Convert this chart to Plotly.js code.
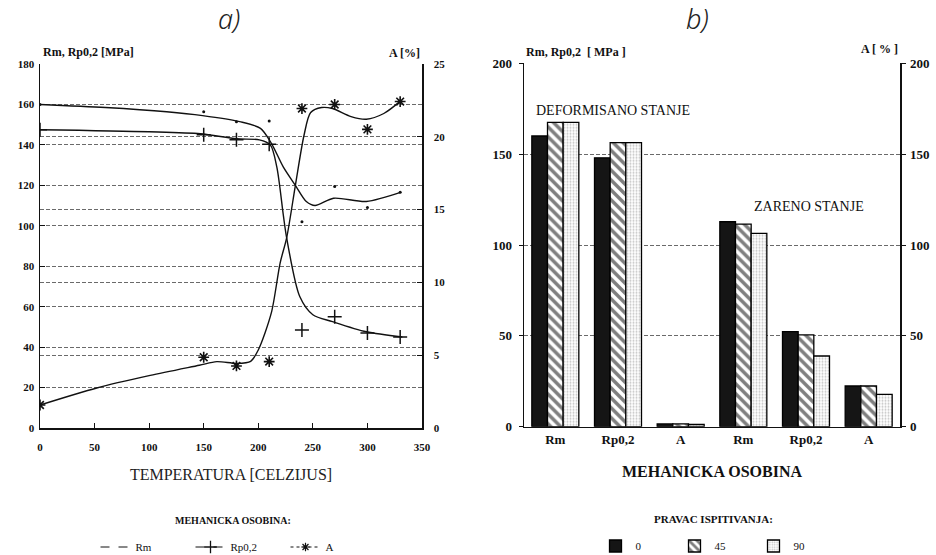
<!DOCTYPE html>
<html><head><meta charset="utf-8">
<script src="https://cdn.plot.ly/plotly-3.0.1.min.js"></script>
<style>html,body{margin:0;padding:0;background:#fff}#chart{width:936px;height:555px}</style>
</head><body><div id="chart"></div>
<script>
// ---------- Chart a): properties vs temperature ----------
// smoothed curves
const rmCurveT = [0, 60, 116, 149, 183, 202, 212, 223, 234, 244, 252, 269, 299, 331];
const rmCurveV = [160, 158.5, 156.4, 154.5, 151.5, 148.2, 140.8, 129, 120, 112, 110, 113.6, 112, 116.6];
const rpCurveT = [0, 100, 147, 180, 201, 211, 217, 223, 226, 238, 250, 268, 299, 332];
const rpCurveV = [147.5, 146.5, 145.5, 143, 142.5, 140, 129, 105, 94, 65, 56, 52.6, 47.6, 45];
const aCurveT = [0, 52, 101, 146, 162, 180, 193, 200, 212, 220, 226, 234, 242, 248, 258, 268, 285, 299, 315, 331];
const aCurveV = [1.58, 2.75, 3.61, 4.31, 4.56, 4.44, 4.58, 5.36, 7.92, 11.33, 13.06, 16.67, 20.14, 21.67, 22.01, 21.94, 21.39, 21.21, 21.6, 22.5];
// measured points
const pointT = [0, 150, 180, 210, 240, 270, 300, 330];
const rmPoints = [160, 156.4, 151.5, 151.8, 102, 119.4, 109, 116.6];
const rpPoints = [147.5, 145, 142.5, 140.3, 48.5, 55, 47, 45];
const aPoints  = [1.58, 4.86, 4.26, 4.56, 21.94, 22.22, 20.51, 22.42];

// ---------- Chart b): properties by test direction ----------
const categories = ["Rm", "Rp0,2", "A", "Rm", "Rp0,2", "A"];
const dir0  = [160, 148, 1.5, 112.8, 52.3, 22.4];
const dir45 = [167.5, 156.3, 1.5, 111.5, 50.5, 22.4];
const dir90 = [167.5, 156.3, 1.2, 106.4, 38.9, 17.8];
const dirNames = ["0", "45", "90"];

const W = 936, H = 555;
const fx = p => p / W, fy = p => 1 - p / H;
const SERIF = "Liberation Serif";
const catIdx = categories.map((c, i) => i);
const lineCol = "#111";

const traces = [
  {type:"scatter", mode:"lines", x:rmCurveT, y:rmCurveV, xaxis:"x", yaxis:"y", line:{color:lineCol,width:1.4,shape:"spline",smoothing:0.8}, showlegend:false, hoverinfo:"skip"},
  {type:"scatter", mode:"lines", x:rpCurveT, y:rpCurveV, xaxis:"x", yaxis:"y", line:{color:lineCol,width:1.4,shape:"spline",smoothing:0.8}, showlegend:false, hoverinfo:"skip"},
  {type:"scatter", mode:"lines", x:aCurveT, y:aCurveV, xaxis:"x", yaxis:"y2", line:{color:lineCol,width:1.4,shape:"spline",smoothing:0.8}, showlegend:false, hoverinfo:"skip"},
  {type:"scatter", mode:"markers", x:pointT, y:rmPoints, xaxis:"x", yaxis:"y", marker:{symbol:"circle",size:3,color:lineCol}, showlegend:false},
  {type:"scatter", mode:"markers", x:pointT, y:rpPoints, xaxis:"x", yaxis:"y", marker:{symbol:"cross-thin",size:10,line:{color:lineCol,width:1.5}}, showlegend:false},
  {type:"scatter", mode:"markers", x:pointT, y:aPoints, xaxis:"x", yaxis:"y2", marker:{symbol:"asterisk",size:9,line:{color:lineCol,width:1.6}}, showlegend:false},
  // legend entries (chart a)
  {type:"scatter", mode:"lines", x:[null], y:[null], xaxis:"x", yaxis:"y", name:"Rm", line:{color:lineCol,width:1,dash:"dash"}, legend:"legend"},
  {type:"scatter", mode:"lines+markers", x:[null], y:[null], xaxis:"x", yaxis:"y", name:"Rp0,2", line:{color:lineCol,width:1,dash:"dash"}, marker:{symbol:"cross-thin",size:9,line:{color:lineCol,width:1.3}}, legend:"legend"},
  {type:"scatter", mode:"lines+markers", x:[null], y:[null], xaxis:"x", yaxis:"y", name:"A", line:{color:lineCol,width:1,dash:"dot"}, marker:{symbol:"asterisk",size:7,line:{color:lineCol,width:1.2}}, legend:"legend"},
  // bars (chart b)
  {type:"bar", x:catIdx, y:dir0, name:dirNames[0], xaxis:"x2", yaxis:"y3", legend:"legend2",
   marker:{color:"#151515", line:{color:"#000",width:1.3}}},
  {type:"bar", x:catIdx, y:dir45, name:dirNames[1], xaxis:"x2", yaxis:"y3", legend:"legend2",
   marker:{color:"#fff", line:{color:"#000",width:1.3}, pattern:{shape:"\\", fgcolor:"#000", bgcolor:"#fff", size:7, solidity:0.5, fillmode:"overlay"}}},
  {type:"bar", x:catIdx, y:dir90, name:dirNames[2], xaxis:"x2", yaxis:"y3", legend:"legend2",
   marker:{color:"#fff", line:{color:"#000",width:1.3}, pattern:{shape:".", fgcolor:"#888", bgcolor:"#fff", size:3, solidity:0.35, fillmode:"overlay"}}},
  {type:"scatter", x:[null], y:[null], xaxis:"x2", yaxis:"y4", showlegend:false, hoverinfo:"skip"}
];

const tickFont = {family:SERIF, size:11, color:"#111", weight:"bold"};
const tickFontB = {family:SERIF, size:13, color:"#111", weight:"bold"};
const grid = {showgrid:true, gridcolor:"#6a6a6a", gridwidth:1, griddash:"4px,2px"};

function ann(text, x, y, font, xa, ya) {
  return {text:text, x:fx(x), y:fy(y), xref:"paper", yref:"paper", xanchor:xa || "center", yanchor:ya || "middle", showarrow:false, font:font};
}
const italicT = {family:"Noto Sans", size:27, style:"italic", weight:300, color:"#222"};
const boldS = {family:SERIF, size:12, weight:"bold", color:"#111"};

const layout = {
  width:W, height:H, margin:{l:0,r:0,t:0,b:0,autoexpand:false},
  paper_bgcolor:"#fff", plot_bgcolor:"#fff",
  showlegend:true, barmode:"group", bargap:0.25, bargroupgap:0,
  font:{family:SERIF, color:"#111"},
  xaxis:{domain:[fx(40),fx(422)], anchor:"y", range:[0,350], dtick:50, ticks:"inside", ticklen:5, tickcolor:"#111",
    showline:true, linecolor:"#111", linewidth:1.5, showgrid:false, zeroline:false, tickfont:tickFont, ticklabelstandoff:8,
    title:{text:"TEMPERATURA [CELZIJUS]", font:{family:SERIF,size:16,color:"#222"}, standoff:17}},
  yaxis:Object.assign({domain:[fy(428),fy(64)], anchor:"x", range:[0,180], dtick:20, ticks:"inside", ticklen:5, tickcolor:"#111",
    showline:true, linecolor:"#111", linewidth:1.5, zeroline:false, tickfont:tickFont, ticklabelstandoff:2}, grid),
  yaxis2:Object.assign({overlaying:"y", side:"right", anchor:"x", range:[0,25], dtick:5, ticks:"inside", ticklen:5, tickcolor:"#111",
    showline:true, linecolor:"#111", linewidth:1.5, zeroline:false, tickfont:tickFont, ticklabelstandoff:8}, grid),
  xaxis2:{domain:[fx(524),fx(900)], anchor:"y3", range:[-0.5,5.5], tickvals:catIdx, ticktext:categories, ticks:"",
    showline:true, linecolor:"#111", linewidth:1.5, showgrid:false, zeroline:false, tickfont:tickFontB,
    title:{text:"MEHANICKA OSOBINA", font:{family:SERIF,size:16,color:"#111",weight:"bold"}, standoff:20}},
  yaxis3:Object.assign({domain:[fy(426.7),fy(63.3)], anchor:"x2", range:[0,200], dtick:50, ticks:"outside", ticklen:4, tickcolor:"#111",
    showline:true, linecolor:"#111", linewidth:1.5, zeroline:false, tickfont:tickFontB, ticklabelstandoff:4}, grid),
  yaxis4:{overlaying:"y3", side:"right", anchor:"x2", range:[0,200], dtick:50, ticks:"outside", ticklen:4, tickcolor:"#111",
    showline:true, linecolor:"#111", linewidth:1.5, showgrid:false, zeroline:false, tickfont:tickFontB, ticklabelstandoff:2},
  legend:{orientation:"h", x:fx(238), xanchor:"center", y:fy(547), yanchor:"middle", bgcolor:"rgba(0,0,0,0)",
    font:{family:SERIF,size:11,color:"#111"}, itemwidth:30, entrywidth:50, tracegroupgap:0},
  legend2:{orientation:"h", x:fx(714), xanchor:"center", y:fy(546), yanchor:"middle", bgcolor:"rgba(0,0,0,0)",
    font:{family:SERIF,size:11,color:"#111"}, itemwidth:30, entrywidth:34},
  annotations:[
    ann("a)", 229, 18, italicT),
    ann("b)", 697, 18, italicT),
    ann("Rm, Rp0,2 [MPa]", 41, 52, boldS, "left"),
    ann("A [%]", 422, 53, boldS, "right"),
    ann("Rm, Rp0,2  [ MPa ]", 524, 52, boldS, "left"),
    ann("A [ % ]", 900, 49, boldS, "right"),
    ann("DEFORMISANO STANJE", 613, 111, {family:SERIF,size:14,color:"#111"}),
    ann("ZARENO STANJE", 809, 206, {family:SERIF,size:14,color:"#111"}),
    ann("MEHANICKA OSOBINA:", 233, 520, {family:SERIF,size:10,weight:"bold",color:"#111"}),
    ann("PRAVAC ISPITIVANJA:", 713, 519, {family:SERIF,size:11,weight:"bold",color:"#111"})
  ]
};

Plotly.newPlot("chart", traces, layout, {displayModeBar:false, staticPlot:true});
</script></body></html>
